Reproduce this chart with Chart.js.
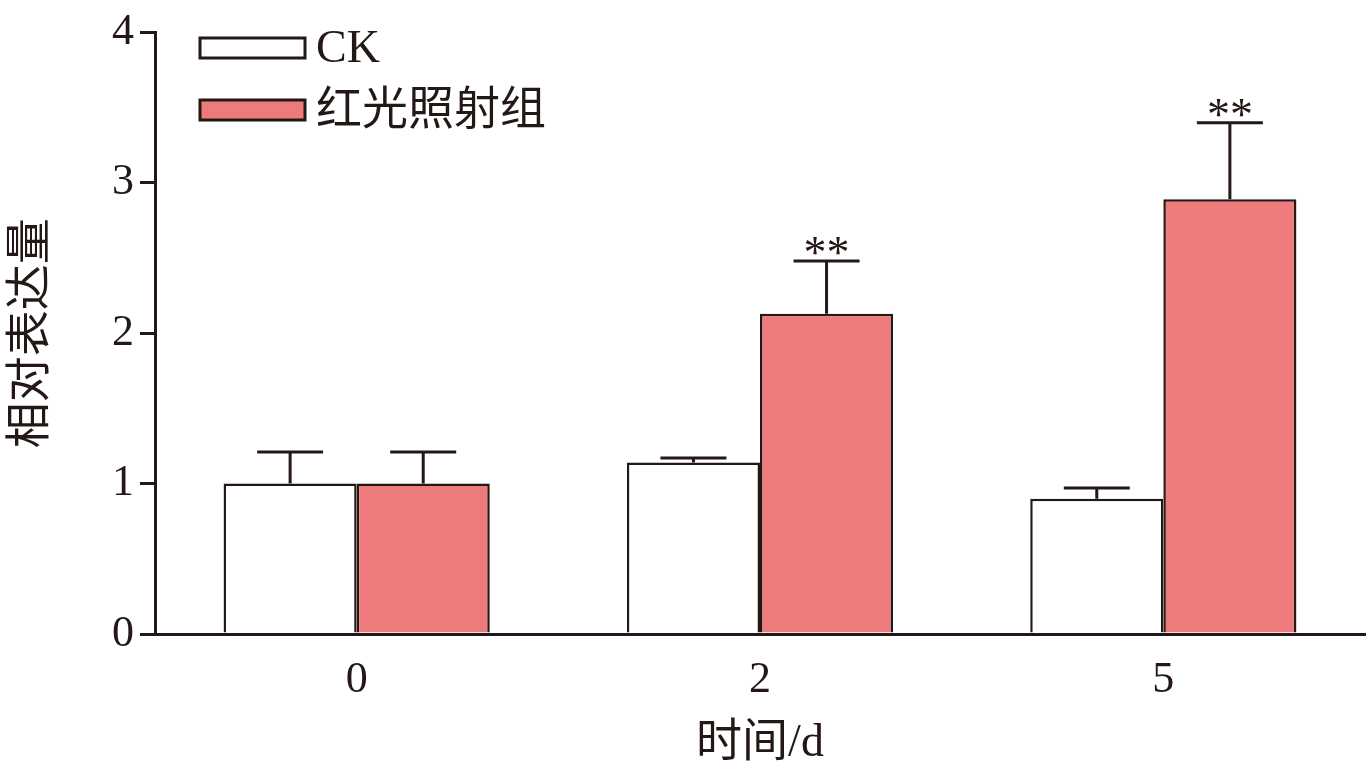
<!DOCTYPE html>
<html>
<head>
<meta charset="utf-8">
<script src="https://cdn.jsdelivr.net/npm/chart.js@4/dist/chart.umd.min.js"></script>
<style>body{margin:0;background:#fff}</style>
</head>
<body>
<canvas id="myChart" width="1372" height="776"></canvas>
<script>
const labels = ['0', '2', '5'];
const ckValues = [1.0, 1.14, 0.9];
const ckErrors = [0.21, 0.03, 0.07];
const redValues = [1.0, 2.13, 2.89];
const redErrors = [0.21, 0.35, 0.51];
const redMarks = ['', '**', '**'];

const axisColor = '#231815';
const serif = "'Liberation Serif', 'Noto Sans CJK SC', serif";
const cjk = "'Liberation Serif', 'Noto Sans CJK SC', serif";

const errorPlugin = {
  id: 'errorBars',
  afterDatasetsDraw(chart) {
    const ctx = chart.ctx;
    const y = chart.scales.y;
    const errs = [ckErrors, redErrors];
    ctx.save();
    ctx.strokeStyle = axisColor;
    ctx.lineWidth = 3;
    chart.data.datasets.forEach(function(ds, di) {
      chart.getDatasetMeta(di).data.forEach(function(bar, i) {
        const top = y.getPixelForValue(ds.data[i] + errs[di][i]);
        ctx.beginPath();
        ctx.moveTo(bar.x, bar.y);
        ctx.lineTo(bar.x, top);
        ctx.moveTo(bar.x - 33, top);
        ctx.lineTo(bar.x + 33, top);
        ctx.stroke();
        if (di == 1 && redMarks[i]) {
          ctx.fillStyle = axisColor;
          ctx.font = '46px ' + serif;
          ctx.textAlign = 'center';
          ctx.textBaseline = 'bottom';
          ctx.fillText(redMarks[i], bar.x, top + 18);
        }
      });
    });
    // legend
    const items = [['CK', '#ffffff', 48], ['红光照射组', '#ee7b7b', 110]];
    items.forEach(function(it) {
      ctx.fillStyle = it[1];
      ctx.fillRect(200, it[2] - 10, 105, 20);
      ctx.lineWidth = 3;
      ctx.strokeRect(200, it[2] - 10, 105, 20);
      ctx.fillStyle = axisColor;
      ctx.font = '46px ' + cjk;
      ctx.textAlign = 'left';
      ctx.textBaseline = 'middle';
      ctx.fillText(it[0], 316, it[2] + 2);
    });
    ctx.restore();
  }
};

const data = {
  labels: labels,
  datasets: [
    { label: 'CK', data: ckValues, backgroundColor: '#ffffff', borderColor: axisColor, borderWidth: 2.5 },
    { label: '红光照射组', data: redValues, backgroundColor: '#ee7b7b', borderColor: axisColor, borderWidth: 2.5 }
  ]
};

const config = {
  type: 'bar',
  data: data,
  options: {
    responsive: false,
    animation: false,
    layout: { padding: { top: 0, right: 7, left: 0, bottom: 0 } },
    datasets: { bar: { barPercentage: 1, categoryPercentage: 0.66 } },
    plugins: { legend: { display: false }, tooltip: { enabled: false } },
    scales: {
      x: {
        grid: { display: false },
        border: { color: axisColor, width: 3 },
        ticks: { color: axisColor, font: { size: 44, family: serif }, padding: 12 },
        title: { display: true, text: '时间/d', color: axisColor, font: { size: 46, family: cjk }, padding: { top: 6 } },
        afterFit(s) { s.height = 142; }
      },
      y: {
        min: 0, max: 4,
        afterFit(s) { s.width = 155; },
        ticks: { stepSize: 1, color: axisColor, font: { size: 44, family: serif }, padding: 6 },
        grid: { drawOnChartArea: false, tickLength: 15, color: axisColor, lineWidth: 3 },
        border: { color: axisColor, width: 3 },
        title: { display: true, text: '相对表达量', color: axisColor, font: { size: 46, family: cjk }, padding: { bottom: 20 } }
      }
    }
  },
  plugins: [errorPlugin]
};

var myChart = new Chart(document.getElementById('myChart'), config);
</script>
</body>
</html>
